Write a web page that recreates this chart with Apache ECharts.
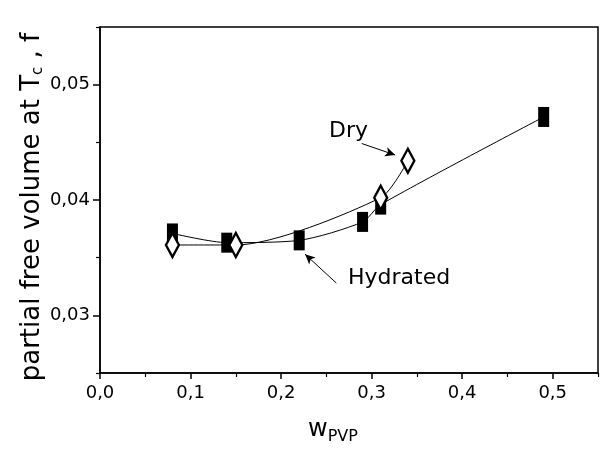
<!DOCTYPE html>
<html>
<head>
<meta charset="utf-8">
<script src="https://cdn.jsdelivr.net/npm/echarts@6/dist/echarts.min.js"></script>
<style>
  html, body { margin: 0; padding: 0; background: #fff; }
  #chart { width: 600px; height: 450px; }
</style>
</head>
<body>
<div id="chart"></div>
<script>
// hydrated samples (filled squares)
const hydratedX = [0.08, 0.14, 0.22, 0.29, 0.31, 0.49];
const hydratedY = [0.0371, 0.0363, 0.0365, 0.0381, 0.0396, 0.0472];
// dry samples (open diamonds)
const dryX = [0.08, 0.15, 0.31, 0.34];
const dryY = [0.0361, 0.0361, 0.0402, 0.0434];

const xMajor = [0, 0.1, 0.2, 0.3, 0.4, 0.5];
const xMinor = [0.05, 0.15, 0.25, 0.35, 0.45, 0.55];
const yMajor = [0.03, 0.04, 0.05];
const yMinor = [0.025, 0.035, 0.045, 0.055];

// annotation arrows, data coords [from, to]
const dryArrow = [[0.289, 0.0449], [0.326, 0.0439]];
const hydArrow = [[0.261, 0.0328], [0.2265, 0.0353]];

const FONT = "'DejaVu Sans', 'Liberation Sans', sans-serif";
const comma = (v, d) => v.toFixed(d).replace('.', ',');

const chart = echarts.init(document.getElementById('chart'));

const xBase = { type: 'value', min: 0, max: 0.55, interval: 0.05, gridIndex: 0, position: 'bottom' };
const yBase = { type: 'value', min: 0.025, max: 0.055, interval: 0.005, gridIndex: 0, position: 'left' };

chart.setOption({
  animation: false,
  backgroundColor: '#fff',
  grid: {
    left: 100, right: 2, top: 27, bottom: 77,
    show: true, borderColor: '#000', borderWidth: 1.5
  },
  xAxis: [
    Object.assign({}, xBase, {
      axisLine: { lineStyle: { color: '#000', width: 1.5 } },
      axisTick: { customValues: xMajor, length: 6, lineStyle: { color: '#000', width: 1.5 } },
      axisLabel: {
        customValues: xMajor, margin: 11, color: '#000', fontSize: 18, fontFamily: FONT,
        formatter: v => comma(v, 1)
      },
      splitLine: { show: false }
    }),
    Object.assign({}, xBase, {
      axisLine: { show: false },
      axisTick: { customValues: xMinor, length: 4, lineStyle: { color: '#000', width: 1.2 } },
      axisLabel: { show: false },
      splitLine: { show: false }
    })
  ],
  yAxis: [
    Object.assign({}, yBase, {
      axisLine: { lineStyle: { color: '#000', width: 1.5 } },
      axisTick: { customValues: yMajor, length: 7, lineStyle: { color: '#000', width: 1.5 } },
      axisLabel: {
        customValues: yMajor, margin: 10, color: '#000', fontSize: 18, fontFamily: FONT,
        formatter: v => comma(v, 2)
      },
      splitLine: { show: false }
    }),
    Object.assign({}, yBase, {
      axisLine: { show: false },
      axisTick: { customValues: yMinor, length: 4, lineStyle: { color: '#000', width: 1.2 } },
      axisLabel: { show: false },
      splitLine: { show: false }
    })
  ],
  series: [
    {
      name: 'Hydrated',
      type: 'line',
      smooth: 0.25,
      data: hydratedX.map((x, i) => [x, hydratedY[i]]),
      symbol: 'rect',
      symbolSize: [11, 20],
      itemStyle: { color: '#000' },
      lineStyle: { color: '#000', width: 1 },
      z: 3,
      markLine: {
        silent: true,
        symbol: ['none', 'arrow'],
        symbolSize: [7, 10],
        lineStyle: { color: '#000', width: 1, type: 'solid' },
        label: { show: false },
        data: [[{ coord: hydArrow[0] }, { coord: hydArrow[1] }]]
      }
    },
    {
      name: 'Dry',
      type: 'line',
      smooth: 0.25,
      data: dryX.map((x, i) => [x, dryY[i]]),
      symbol: 'diamond',
      symbolSize: [13, 24],
      itemStyle: { color: '#fff', borderColor: '#000', borderWidth: 2.5 },
      lineStyle: { color: '#000', width: 1 },
      z: 4,
      markLine: {
        silent: true,
        symbol: ['none', 'arrow'],
        symbolSize: [7, 10],
        lineStyle: { color: '#000', width: 1, type: 'solid' },
        label: { show: false },
        data: [[{ coord: dryArrow[0] }, { coord: dryArrow[1] }]]
      }
    }
  ],
  graphic: [
    {
      type: 'text', x: 329, y: 131,
      style: { text: 'Dry', font: '22px ' + FONT, fill: '#000', textVerticalAlign: 'middle' }
    },
    {
      type: 'text', x: 348, y: 278,
      style: { text: 'Hydrated', font: '22px ' + FONT, fill: '#000', textVerticalAlign: 'middle' }
    },
    {
      type: 'text', x: 32, y: 207, rotation: Math.PI / 2,
      style: {
        text: 'partial free volume at T{sub|c} , f',
        font: '26px ' + FONT, fill: '#000',
        textAlign: 'center', textVerticalAlign: 'middle',
        rich: { sub: { fontSize: 15, fontFamily: FONT, padding: [12, 0, 0, 0] } }
      }
    },
    {
      type: 'text', x: 333, y: 430,
      style: {
        text: 'w{sub|PVP}',
        font: '24px ' + FONT, fill: '#000',
        textAlign: 'center', textVerticalAlign: 'middle',
        rich: { sub: { fontSize: 16, fontFamily: FONT, padding: [14, 0, 0, 0] } }
      }
    }
  ]
});
</script>
</body>
</html>
